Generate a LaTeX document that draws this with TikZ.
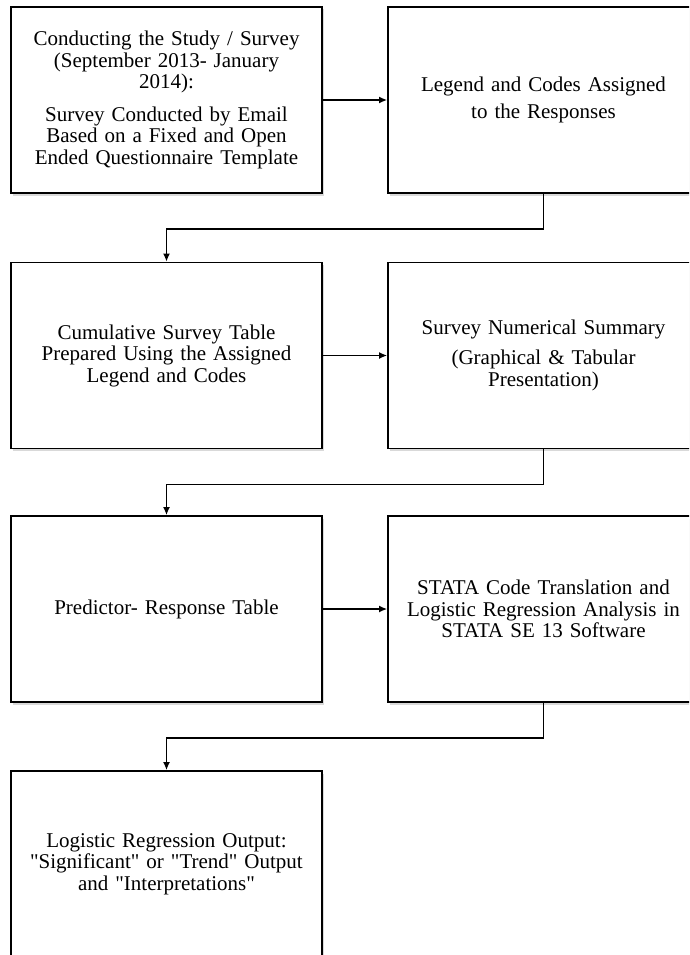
\documentclass[tikz,border=0pt]{standalone}
\usepackage{fontspec}
\setmainfont{Liberation Serif}[Ligatures=TeXOff]
\usetikzlibrary{arrows.meta,shadows}

\begin{document}
\begin{tikzpicture}[x=1pt,y=-1pt,
  stage/.style={draw=black,line width=1.7pt,fill=white,minimum width=311pt,minimum height=186pt,
    text width=300pt,align=center,inner sep=0pt,
    drop shadow={shadow xshift=2pt,shadow yshift=-2.5pt,opacity=0.3}},
  flow/.style={line width=1.6pt,-{Latex[length=8pt,width=7pt]}},
  font=\fontsize{21}{21.5}\selectfont]
\clip (0,0) rectangle (689,955);
\node[stage] (survey) at (166.5,100) {Conducting the Study / Survey\\ (September 2013- January\\ 2014):\\[11pt]
Survey Conducted by Email\\ Based on a Fixed and Open\\ Ended Questionnaire Template};
\node[stage] (codes) at (543.5,100) {Legend and Codes Assigned\\[5.5pt] to the Responses};
\node[stage] (table) at (166.5,355.5) {Cumulative Survey Table\\ Prepared Using the Assigned\\ Legend and Codes};
\node[stage] (summary) at (543.5,355.5) {Survey Numerical Summary\\[8.5pt] (Graphical \& Tabular\\ Presentation)};
\node[stage] (predictor) at (166.5,609) {Predictor- Response Table};
\node[stage] (stata) at (543.5,609) {STATA Code Translation and\\ Logistic Regression Analysis in\\ STATA SE 13 Software};
\node[stage] (output) at (166.5,864) {Logistic Regression Output:\\ "Significant" or "Trend" Output\\ and "Interpretations"};

\draw[flow] (survey) -- (codes);
\draw[flow] (table) -- (summary);
\draw[flow] (predictor) -- (stata);
\draw[flow] (codes.south) -- ++(0,35) -| (table.north);
\draw[flow] (summary.south) -- ++(0,35) -| (predictor.north);
\draw[flow] (stata.south) -- ++(0,35) -| (output.north);
\end{tikzpicture}
\end{document}
